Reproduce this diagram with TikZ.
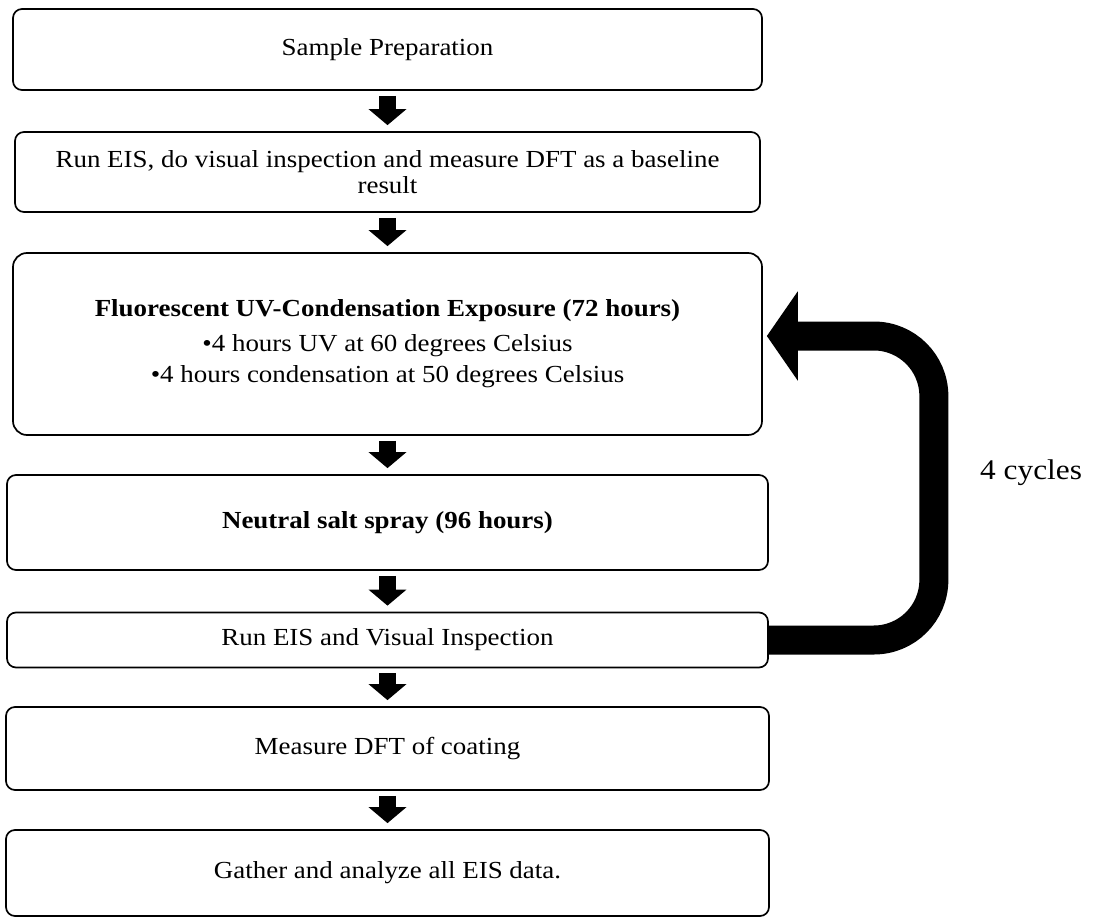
\documentclass[tikz,border=0pt]{standalone}
\usepackage{fontspec}
\setmainfont{Liberation Serif}[FakeStretch=1.1]
\usetikzlibrary{arrows.meta}
\tikzset{
  stepbox/.style={draw=black, line width=1.7pt, rounded corners=9pt, inner sep=0pt,
    align=center, font=\fontsize{24.5}{26}\selectfont},
  down/.style={line width=17pt, -{Triangle[length=16pt,width=37pt]},
    shorten <=5pt, shorten >=6pt},
  loopback/.style={line width=29pt, rounded corners=60pt,
    -{Triangle[length=31pt,width=88pt]}}
}
\begin{document}
\begin{tikzpicture}[x=1pt, y=-1pt]
\useasboundingbox (0,0) rectangle (1093,918);
\node[stepbox, minimum width=749pt, minimum height=81pt] (b1) at (387.5,49.5) {Sample Preparation};
\node[stepbox, minimum width=745pt, minimum height=80pt] (b2) at (387.5,172) {Run EIS, do visual inspection and measure DFT as a baseline\\result};
\node[stepbox, rounded corners=14pt, minimum width=749pt, minimum height=182pt, font=\fontsize{24.5}{31}\selectfont] (b3) at (387.5,344)
  {\textbf{Fluorescent UV-Condensation Exposure (72 hours)}\\[4pt]
   •4 hours UV at 60 degrees Celsius\\
   •4 hours condensation at 50 degrees Celsius};
\node[stepbox, minimum width=761pt, minimum height=95pt] (b4) at (387.5,522.5) {\textbf{Neutral salt spray (96 hours)}};
\node[stepbox, minimum width=761pt, minimum height=55pt] (b5) at (387.5,640) {Run EIS and Visual Inspection};
\node[stepbox, minimum width=763pt, minimum height=83pt] (b6) at (387.5,748.5) {Measure DFT of coating};
\node[stepbox, minimum width=763pt, minimum height=86pt] (b7) at (387.5,873) {Gather and analyze all EIS data.};
\node[font=\fontsize{28.5}{30}\selectfont, anchor=west, inner sep=0pt] (cyc) at (980,473) {4 cycles};
\draw[down] (b1.south) -- (b2.north);
\draw[down] (b2.south) -- (b3.north);
\draw[down] (b3.south) -- (b4.north);
\draw[down] (b4.south) -- (b5.north);
\draw[down] (b5.south) -- (b6.north);
\draw[down] (b6.south) -- (b7.north);
\draw[loopback] (b5.east) -- ++(165,0) |- ([xshift=4pt,yshift=8pt]b3.east);
\end{tikzpicture}
\end{document}
